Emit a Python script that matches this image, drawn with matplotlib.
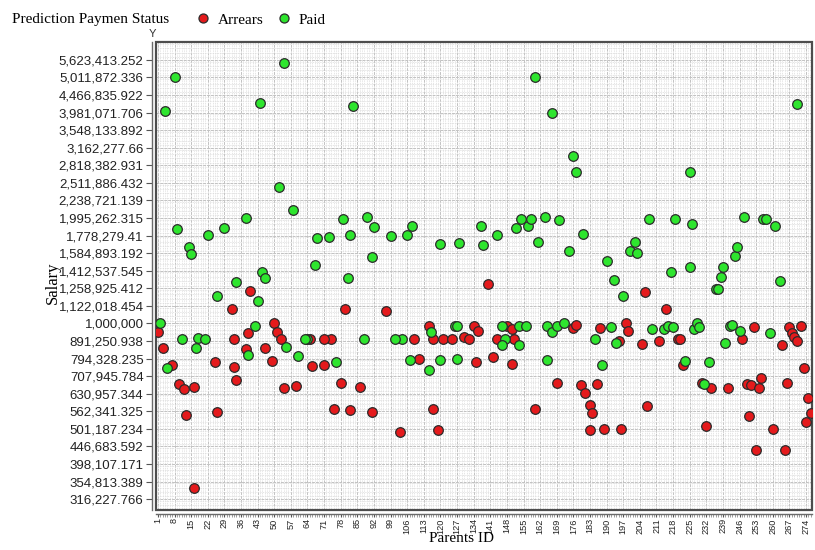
import matplotlib
matplotlib.use('Agg')
import matplotlib.pyplot as plt
import numpy as np
from matplotlib.ticker import FixedLocator, MultipleLocator, NullFormatter
from matplotlib.patches import Rectangle
from matplotlib.lines import Line2D

# Arrears (red) points: parent id, salary
arrears_id = [1, 3, 7, 10, 12, 16, 13, 16,
              40, 32, 80, 97, 140, 39, 50, 51, 176, 177,
              144, 151, 148, 150, 134, 136, 115, 130, 132, 117, 121, 125, 109,
              74, 71, 65, 53, 33,
              206, 215, 198, 199, 187, 195, 205, 212, 220, 221, 252, 247,
              267, 268, 269, 270, 272, 264, 222, 273, 186, 230, 234, 241,
              249, 251, 254, 255, 266, 275, 276, 274, 207, 250, 189, 196,
              232, 260, 253, 265,
              25, 33, 34, 26, 38, 46, 49, 54, 59, 66, 71, 78, 75, 82, 86, 91,
              103, 111, 117, 119, 135, 142, 150, 160, 169, 179, 181, 183, 184, 183]
arrears_salary = [947000, 849000, 761000, 671000, 649000, 660000, 549000, 339000,
                  1239000, 1101000, 1101000, 1087000, 1292000, 937000, 1003000, 943000, 968000, 990000,
                  901000, 901000, 983000, 965000, 985000, 951000, 983000, 913000, 901000, 904000, 904000, 904000, 904000,
                  901000, 901000, 901000, 904000, 901000,
                  1231000, 1101000, 1005000, 953000, 968000, 893000, 872000, 891000, 901000, 901000, 975000, 901000,
                  979000, 941000, 913000, 891000, 983000, 870000, 761000, 745000, 671000, 678000, 656000, 654000,
                  671000, 669000, 656000, 700000, 675000, 614000, 557000, 523000, 582000, 544000, 500000, 500000,
                  510000, 500000, 437000, 437000,
                  777000, 751000, 690000, 560000, 845000, 851000, 782000, 655000, 663000, 756000, 761000, 677000,
                  571000, 567000, 659000, 560000,
                  491000, 792000, 571000, 497000, 777000, 802000, 766000, 571000, 677000, 668000, 634000, 586000,
                  556000, 497000]

# Paid (green) points: parent id, salary
paid_id = [4, 8, 44, 54, 83, 52,
           2, 9, 14, 15, 22, 26, 29, 34, 38, 42, 43, 45, 46, 58, 67, 68, 73, 79, 81, 82,
           89, 91, 92, 99, 106, 108, 120, 128, 137, 138, 144, 152, 154, 157, 158, 161,
           164, 170, 174, 180, 190, 193, 197, 200, 202, 203, 208, 217, 219, 225, 226,
           236, 237, 238, 239, 244, 245, 248, 256, 257, 261, 263,
           192, 209, 214, 216, 218, 227, 228, 229, 242, 243, 246, 259, 194, 240,
           188, 223, 233, 231,
           165, 167, 169, 172, 146, 147, 153, 156, 126, 127, 116, 104, 101, 88,
           64, 63, 18, 21, 11, 185, 17, 5,
           160, 167, 176, 177, 225, 270,
           39, 55, 60, 76, 107, 120, 127, 146, 165, 153, 115]
paid_salary = [4025000, 5020000, 4251000, 5514000, 4159000, 2446000,
               1001000, 1853000, 1654000, 1573000, 1785000, 1199000, 1866000, 1314000, 1995000, 983000,
               1160000, 1404000, 1344000, 2103000, 1467000, 1754000, 1766000, 1983000, 1347000, 1785000,
               2012000, 1543000, 1878000, 1777000, 1785000, 1894000, 1680000, 1691000, 1894000, 1675000,
               1785000, 1869000, 1983000, 1898000, 1983000, 1702000,
               2012000, 1974000, 1605000, 1793000, 1506000, 1329000, 1199000, 1605000, 1702000, 1584000,
               1983000, 1401000, 1983000, 1450000, 1916000,
               1251000, 1251000, 1356000, 1450000, 1559000, 1654000, 2012000, 1983000, 1983000, 1894000, 1323000,
               979000, 962000, 962000, 983000, 979000, 966000, 1005000, 979000, 983000, 990000, 951000,
               941000, 878000, 878000,
               761000, 783000, 778000, 672000,
               983000, 947000, 983000, 1000000, 983000, 904000, 983000, 983000, 983000, 983000, 945000,
               904000, 904000, 901000,
               904000, 901000, 911000, 901000, 901000, 901000, 849000, 748000,
               5020000, 3981000, 3000000, 2700000, 2700000, 4200000,
               813000, 857000, 808000, 777000, 787000, 787000, 792000, 868000, 787000, 868000, 737000]

y_tick_labels = ['316,227.766', '354,813.389', '398,107.171', '446,683.592', '501,187.234',
                 '562,341.325', '630,957.344', '707,945.784', '794,328.235', '891,250.938',
                 '1,000,000', '1,122,018.454', '1,258,925.412', '1,412,537.545', '1,584,893.192',
                 '1,778,279.41', '1,995,262.315', '2,238,721.139', '2,511,886.432', '2,818,382.931',
                 '3,162,277.66', '3,548,133.892', '3,981,071.706', '4,466,835.922', '5,011,872.336',
                 '5,623,413.252']
x_ticks = list(range(1, 275, 7))

RED = '#e41a1c'
GREEN = '#2ee52e'
EDGE = '#2b2b2b'
SERIF = 'Liberation Serif'
SANS = 'Liberation Sans'

fig = plt.figure(figsize=(8.15, 5.5), dpi=100)
ax = fig.add_axes([156 / 815, 1 - 510 / 550, 656 / 815, 468 / 550])

ax.scatter(arrears_id, arrears_salary, s=48, c=RED, edgecolors=EDGE, linewidths=0.9, zorder=4)
ax.scatter(paid_id, paid_salary, s=48, c=GREEN, edgecolors=EDGE, linewidths=0.9, zorder=4)

ax.set_yscale('log')
ax.set_ylim(10 ** 5.469, 10 ** 6.801)
ax.set_xlim(0.2, 276.5)

y_tick_values = [float(t.replace(',', '')) for t in y_tick_labels]
ax.yaxis.set_major_locator(FixedLocator(y_tick_values))
ax.yaxis.set_major_formatter(plt.FixedFormatter(y_tick_labels))
ax.yaxis.set_minor_locator(FixedLocator(10 ** np.arange(5.47, 6.80, 0.0125)))
ax.yaxis.set_minor_formatter(NullFormatter())
ax.xaxis.set_major_locator(FixedLocator(x_ticks))
ax.xaxis.set_minor_locator(MultipleLocator(1))

# background texture
ax.grid(which='minor', color='#dcdcdc', lw=0.6, ls=(0, (1, 1)))
ax.grid(which='major', color='#c2c2c2', lw=0.7, ls=(0, (3, 1)))
ax.set_axisbelow(True)

for side in ['top', 'right']:
    ax.spines[side].set_visible(False)
for side in ['left', 'bottom']:
    ax.spines[side].set_position(('outward', 3))
    ax.spines[side].set_color('#6a6a6a')
    ax.spines[side].set_linewidth(1.0)
ax.add_patch(Rectangle((0, 0), 1, 1, transform=ax.transAxes, fill=False,
                       ec='#4d4d4d', lw=1.6, clip_on=False, zorder=3))

ax.tick_params(axis='y', which='major', length=4, width=0.8, color='#555555',
               labelsize=9.5, pad=2, labelcolor='#222222')
ax.tick_params(axis='y', which='minor', length=0)
ax.tick_params(axis='x', which='major', length=2, width=0.8, color='#555555',
               labelsize=6.6, pad=1, labelrotation=90, labelcolor='#222222')
ax.tick_params(axis='x', which='minor', length=2, width=0.5, color='#777777')
for lab in ax.get_xticklabels() + ax.get_yticklabels():
    lab.set_family(SANS)

ax.text(-4 / 656, 1.006, 'Y', transform=ax.transAxes, ha='center', va='bottom',
        fontsize=8, family=SANS, color='#333333')

ax.set_ylabel('Salary', family=SERIF, fontsize=12)
ax.yaxis.set_label_coords(-0.145, 0.485)
ax.set_xlabel('Parents ID', family=SERIF, fontsize=11)
ax.xaxis.set_label_coords(0.465, -0.048)

fig.text(12 / 815, 1 - 20 / 550, 'Prediction Paymen Status', family=SERIF,
         fontsize=11, va='center', ha='left')
handles = [Line2D([], [], ls='', marker='o', ms=6.5, mfc=RED, mec=EDGE, mew=0.9),
           Line2D([], [], ls='', marker='o', ms=6.5, mfc=GREEN, mec=EDGE, mew=0.9)]
fig.legend(handles, ['Arrears', 'Paid'], loc='center left',
           bbox_to_anchor=(186 / 815, 1 - 20 / 550), ncol=2, frameon=False,
           handletextpad=0.4, columnspacing=0.7, borderpad=0, handlelength=1.2,
           prop={'family': SERIF, 'size': 11})

fig.savefig('out.png', dpi=100)
